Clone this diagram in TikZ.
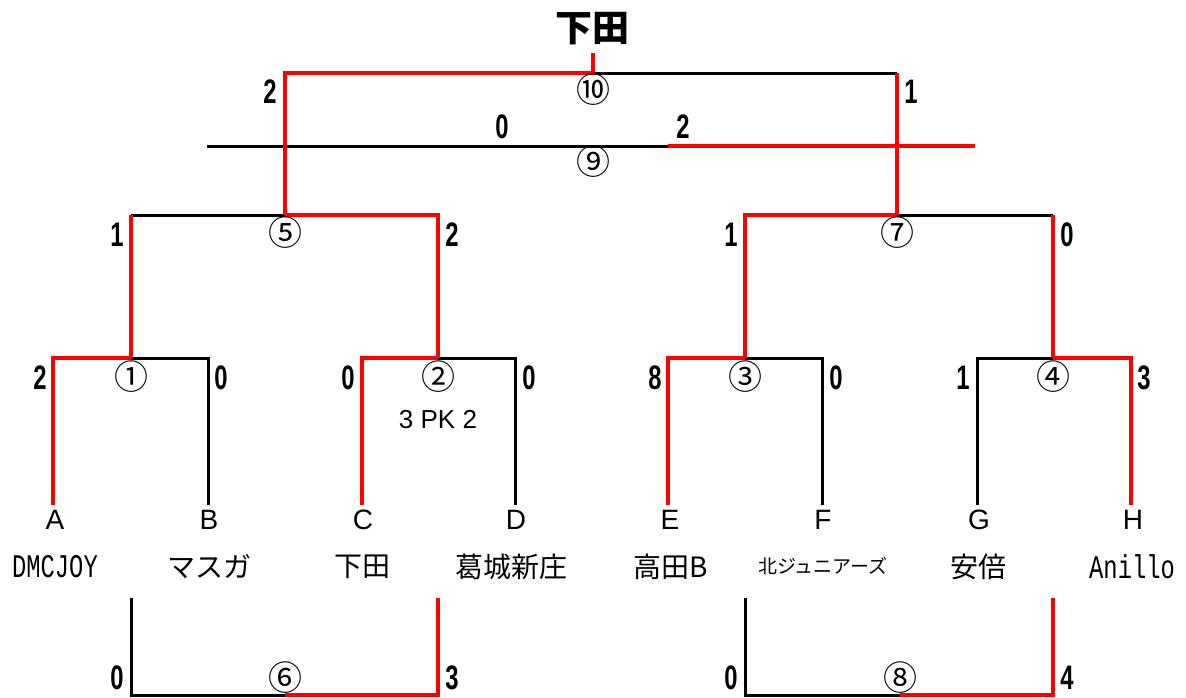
\documentclass[tikz,border=0pt]{standalone}
\usepackage{graphicx}
\usepackage{fontspec}
\setmainfont{Liberation Sans}
\newfontfamily\jpf{Noto Sans CJK JP}
\newfontfamily\monof{Liberation Mono}
\newcommand{\narrowtxt}[2]{\scalebox{#1}[1]{#2}}
\newcommand{\dg}[1]{\scalebox{0.7}[1]{#1}}
\tikzset{
  win/.style={draw={rgb,255:red,255;green,0;blue,0}, line width=4pt, line join=miter},
  lose/.style={draw=black, line width=3pt, line join=miter},
  score/.style={inner sep=0pt, font=\fontsize{34}{34}\selectfont\bfseries},
  circ/.style={inner sep=0pt, font=\jpf\fontsize{34}{34}\selectfont},
  letter/.style={inner sep=0pt, font=\fontsize{28}{28}\selectfont},
  team/.style={inner sep=0pt, font=\jpf\fontsize{28}{28}\selectfont},
  smallteam/.style={inner sep=0pt, font=\jpf\fontsize{19}{19}\selectfont},
  monoteam/.style={inner sep=0pt, font=\monof\fontsize{33}{33}\selectfont},
  note/.style={inner sep=0pt, font=\fontsize{26}{26}\selectfont},
  titletxt/.style={inner sep=0pt, font=\jpf\bfseries\fontsize{37}{37}\selectfont}
}
\begin{document}
\begin{tikzpicture}[x=1pt,y=-1pt]
\useasboundingbox (0,0) rectangle (1186,697);
% ---- coordinates ----
\coordinate (lA) at (53,505);  \coordinate (lB) at (208,505);
\coordinate (lC) at (362,505); \coordinate (lD) at (515,505);
\coordinate (lE) at (668,505); \coordinate (lF) at (822,505);
\coordinate (lG) at (977,505); \coordinate (lH) at (1131,505);
\coordinate (q1L) at (53,358);  \coordinate (m1) at (131,358);  \coordinate (q1R) at (208,358);
\coordinate (q2L) at (362,358); \coordinate (m2) at (438,358);  \coordinate (q2R) at (515,358);
\coordinate (q3L) at (668,358); \coordinate (m3) at (745,358);  \coordinate (q3R) at (822,358);
\coordinate (q4L) at (977,358); \coordinate (m4) at (1053,358); \coordinate (q4R) at (1131,358);
\coordinate (s5L) at (131,215); \coordinate (m5) at (285,215); \coordinate (s5R) at (438,215);
\coordinate (s7L) at (745,215); \coordinate (m7) at (897,215); \coordinate (s7R) at (1053,215);
\coordinate (fL) at (285,73); \coordinate (m10) at (593,73); \coordinate (fR) at (897,73);
\coordinate (champ) at (593,53);
\coordinate (t9L) at (207,146); \coordinate (t9M) at (668,146); \coordinate (t9R) at (975,146);
\coordinate (b6Lt) at (131,598); \coordinate (b6Lb) at (131,695); \coordinate (b6M) at (285,695);
\coordinate (b6Rb) at (438,695); \coordinate (b6Rt) at (438,598);
\coordinate (b8Lt) at (745,598); \coordinate (b8Lb) at (745,695); \coordinate (b8M) at (900,695);
\coordinate (b8Rb) at (1053,695); \coordinate (b8Rt) at (1053,598);

% ---- lines ----
\draw[lose] (m1) -- (q1R) -- (lB);
\draw[win] (lA) -- (q1L) -- (m1);
\draw[lose] (m2) -- (q2R) -- (lD);
\draw[win] (lC) -- (q2L) -- (m2);
\draw[lose] (m3) -- (q3R) -- (lF);
\draw[win] (lE) -- (q3L) -- (m3);
\draw[lose] (m4) -- (q4L) -- (lG);
\draw[win] (lH) -- (q4R) -- (m4);
\draw[lose] (s5L) -- (m5);
\draw[win] (m1) -- (s5L);
\draw[win] (m2) -- (s5R) -- (m5);
\draw[lose] (m7) -- (s7R);
\draw[win] (s7R) -- (m4);
\draw[win] (m3) -- (s7L) -- (m7);
\draw[lose] (t9L) -- (t9M);
\draw[win] (t9M) -- (t9R);
\draw[lose] (m10) -- (fR);
\draw[win] (fR) -- (m7);
\draw[win] (m5) -- (fL) -- (m10) -- (champ);
\draw[lose] (b6Lt) -- (b6Lb) -- (b6M);
\draw[win] (b6M) -- (b6Rb) -- (b6Rt);
\draw[lose] (b8Lt) -- (b8Lb) -- (b8M);
\draw[win] (b8M) -- (b8Rb) -- (b8Rt);

% ---- title ----
\node[titletxt] (title) at (592,29) {下田};

% ---- circled match numbers ----
\node[circ] (c1) at (131,377) {①};
\node[circ] (c2) at (438,377) {②};
\node[circ] (c3) at (745,377) {③};
\node[circ] (c4) at (1053,377) {④};
\node[circ] (c5) at (285,233) {⑤};
\node[circ] (c6) at (285,678) {⑥};
\node[circ] (c7) at (897,233) {⑦};
\node[circ] (c8) at (900,678) {⑧};
\node[circ] (c9) at (593,162) {⑨};
\node[circ] (c10) at (593,90) {⑩};

\node[note] (pk) at (438,420) {3 PK 2};

% ---- scores ----
\node[score] (s1a) at (40,378) {\dg{2}};
\node[score] (s1b) at (221,378) {\dg{0}};
\node[score] (s2a) at (348,378) {\dg{0}};
\node[score] (s2b) at (529,378) {\dg{0}};
\node[score] (s3a) at (655,378) {\dg{8}};
\node[score] (s3b) at (836,378) {\dg{0}};
\node[score] (s4a) at (963,378) {\dg{1}};
\node[score] (s4b) at (1144,378) {\dg{3}};
\node[score] (s5a) at (117,235) {\dg{1}};
\node[score] (s5b) at (452,235) {\dg{2}};
\node[score] (s7a) at (731,235) {\dg{1}};
\node[score] (s7b) at (1067,235) {\dg{0}};
\node[score] (s10a) at (270,92) {\dg{2}};
\node[score] (s10b) at (911,92) {\dg{1}};
\node[score] (s9a) at (502,127) {\dg{0}};
\node[score] (s9b) at (683,127) {\dg{2}};
\node[score] (s6a) at (117,678) {\dg{0}};
\node[score] (s6b) at (452,678) {\dg{3}};
\node[score] (s8a) at (731,678) {\dg{0}};
\node[score] (s8b) at (1067,678) {\dg{4}};

% ---- letters ----
\node[letter] (A) at (55,520) {A};
\node[letter] (B) at (209,520) {B};
\node[letter] (C) at (363,520) {C};
\node[letter] (D) at (516,520) {D};
\node[letter] (E) at (670,520) {E};
\node[letter] (F) at (823,520) {F};
\node[letter] (G) at (979,520) {G};
\node[letter] (H) at (1133,520) {H};

% ---- team names ----
\node[monoteam] (tA) at (55,567) {\narrowtxt{0.72}{DMCJOY}};
\node[team] (tB) at (209,567) {マスガ};
\node[team] (tC) at (362,567) {下田};
\node[team] (tD) at (511,567) {葛城新庄};
\node[team] (tE) at (671,567) {高田B};
\node[smallteam] (tF) at (823,566) {北ジュニアーズ};
\node[team] (tG) at (978,567) {安倍};
\node[monoteam] (tH) at (1132,567) {\narrowtxt{0.72}{Anillo}};
\end{tikzpicture}
\end{document}
